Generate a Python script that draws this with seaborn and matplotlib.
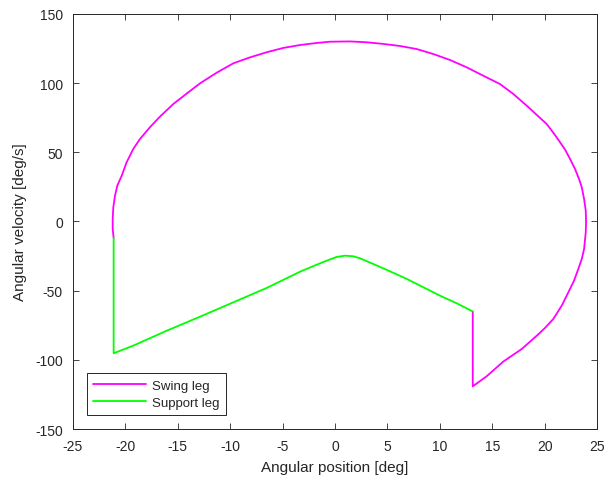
import numpy as np
import pandas as pd
import matplotlib
matplotlib.use("Agg")
import matplotlib.pyplot as plt
import seaborn as sns

# Swing leg trajectory (angular position [deg], angular velocity [deg/s])
swing_x = [13.13, 13.13, 14.46, 16.04, 17.80, 18.52, 19.23, 20.02, 20.81, 21.61,
           22.24, 22.78, 23.19, 23.52, 23.74, 23.90, 23.93, 23.90, 23.74, 23.52,
           23.26, 22.88, 22.40, 21.93, 21.45, 20.97, 20.18, 19.23, 18.27, 17.00,
           15.73, 14.14, 12.55, 10.96, 9.37, 7.79, 6.20, 4.60, 3.02, 1.43,
           -0.48, -1.74, -3.34, -4.93, -6.51, -8.10, -9.69, -11.28, -12.87, -14.14,
           -15.41, -16.68, -17.64, -18.59, -19.23, -19.86, -20.33, -20.75, -20.97, -21.13,
           -21.19, -21.19, -21.10]
swing_y = [-65.0, -119.1, -111.8, -101.2, -92.1, -87.3, -82.5, -76.9, -70.4, -60.8,
           -51.2, -42.8, -34.3, -27.1, -19.9, -7.8, 0.1, 7.8, 16.3, 24.7,
           30.7, 37.9, 45.2, 51.9, 57.2, 62.5, 70.4, 77.0, 83.7, 92.1,
           99.3, 105.3, 111.4, 116.7, 121.0, 124.6, 126.8, 128.3, 129.5, 130.1,
           129.9, 129.0, 127.5, 125.4, 122.3, 118.6, 114.3, 107.5, 99.8, 92.4,
           84.9, 75.8, 68.1, 59.6, 52.4, 42.8, 33.1, 25.9, 18.6, 10.3,
           1.8, -5.4, -11.9]

# Support leg trajectory
support_x = [-21.10, -21.10, -19.23, -16.04, -12.87, -9.69, -6.51, -3.34, -1.74, -0.79,
             0.16, 0.95, 1.74, 2.38, 3.65, 5.24, 6.84, 8.42, 10.01, 11.60, 13.13]
support_y = [-11.9, -95.2, -89.7, -78.9, -68.8, -58.4, -48.0, -36.3, -31.2, -28.3,
             -25.6, -24.7, -25.1, -26.6, -30.7, -36.0, -41.5, -47.5, -53.6, -59.1, -65.0]

labels = ["Swing leg", "Support leg"]
colors = ["#FF00FF", "#00FF00"]
xticks = [-25, -20, -15, -10, -5, 0, 5, 10, 15, 20, 25]
yticks = [-150, -100, -50, 0, 50, 100, 150]

sns.set_style("white")
plt.rcParams['font.family'] = ['Liberation Sans', 'DejaVu Sans']

fig = plt.figure(figsize=(6.08, 4.85), dpi=100)
ax = fig.add_axes([0.1196, 0.1132, 0.8628, 0.8561])

df_sw = pd.DataFrame({"x": swing_x, "y": swing_y})
df_su = pd.DataFrame({"x": support_x, "y": support_y})
sns.lineplot(data=df_sw, x="x", y="y", sort=False, estimator=None, color=colors[0],
             linewidth=1.3, label=labels[0], ax=ax)
sns.lineplot(data=df_su, x="x", y="y", sort=False, estimator=None, color=colors[1],
             linewidth=1.3, label=labels[1], ax=ax)

ax.set_xlim(-25, 25)
ax.set_ylim(-150, 150)
ax.set_xticks(xticks)
ax.set_yticks(yticks)
ax.set_xticklabels([str(t) for t in xticks])
ax.set_yticklabels([str(t) for t in yticks])
ax.tick_params(direction="in", length=4, width=0.6, colors="#262626", labelsize=10,
               top=True, right=True, bottom=True, left=True, pad=7)
for s in ax.spines.values():
    s.set_visible(True)
    s.set_color("#262626")
    s.set_linewidth(0.7)

ax.set_xlabel("Angular position [deg]", fontsize=11, color="#262626", labelpad=5)
ax.set_ylabel("Angular velocity [deg/s]", fontsize=11, color="#262626", labelpad=6)

leg = ax.legend(loc="lower left", bbox_to_anchor=(0.027, 0.034), fontsize=9.5,
                frameon=True, fancybox=False, edgecolor="#262626", framealpha=1,
                handlelength=4.0, borderpad=0.45, labelspacing=0.4, handletextpad=0.5,
                borderaxespad=0)
leg.get_frame().set_linewidth(0.7)

fig.savefig("out.png", dpi=100)
